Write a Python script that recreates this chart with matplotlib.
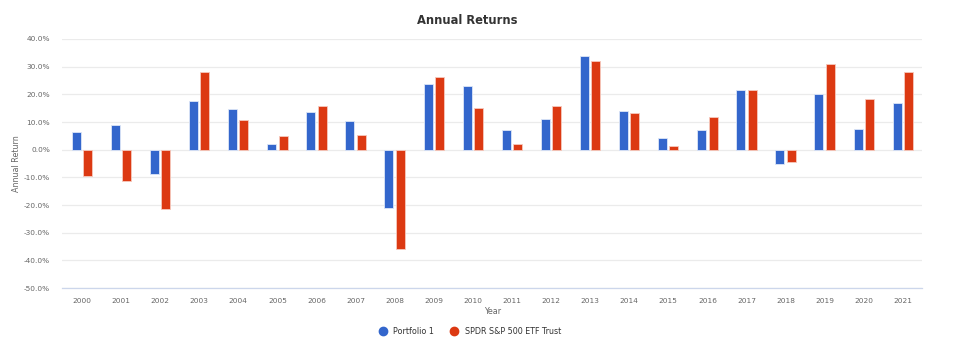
import numpy as np
import matplotlib
matplotlib.use("Agg")
from matplotlib import pyplot as plt
from matplotlib.lines import Line2D
from matplotlib.ticker import FuncFormatter, MultipleLocator

# Data (annual returns, %)
years = [str(y) for y in range(2000, 2022)]
portfolio_1 = [6.4, 8.9, -8.9, 17.5, 14.8, 2.1, 13.8, 10.4, -21.1, 23.9,
               23.0, 7.1, 11.2, 34.0, 13.9, 4.1, 7.3, 21.5, -5.2, 20.1,
               7.5, 16.8]
spdr_sp500 = [-9.6, -11.4, -21.5, 28.1, 10.8, 4.9, 15.8, 5.2, -36.0, 26.1,
              14.9, 2.0, 15.9, 31.9, 13.4, 1.2, 11.9, 21.5, -4.3, 30.8,
              18.2, 28.0]
series_names = ["Portfolio 1", "SPDR S&P 500 ETF Trust"]

blue = "#3366cc"
red = "#dc3912"
grey = "#666666"

fig = plt.figure(figsize=(9.75, 3.51), dpi=100)
ax = fig.add_axes([0.064, 0.179, 0.882, 0.710])

x = np.arange(len(years))
w = 0.23
ax.bar(x - 0.145, portfolio_1, width=w, color=blue, edgecolor="#dde6f7",
       linewidth=0.6, zorder=3)
ax.bar(x + 0.145, spdr_sp500, width=w, color=red, edgecolor="#f6c9bd",
       linewidth=0.6, zorder=3)

ax.set_xlim(-0.5, len(years) - 0.5)
ax.set_ylim(-50, 40)
ax.yaxis.set_major_locator(MultipleLocator(10))
ax.yaxis.set_major_formatter(FuncFormatter(lambda v, p: "%.1f%%" % v))
ax.set_xticks(x)
ax.set_xticklabels(years)
ax.tick_params(axis="both", length=0, labelsize=5.3, colors=grey)
ax.tick_params(axis="x", pad=7)
ax.tick_params(axis="y", pad=9)

ax.grid(axis="y", color="#ebebeb", linewidth=0.9, zorder=0)
for s in ["top", "right", "left"]:
    ax.spines[s].set_visible(False)
ax.spines["bottom"].set_color("#ccd6eb")
ax.spines["bottom"].set_linewidth(0.9)

ax.set_ylabel("Annual Return", fontsize=5.8, color=grey, labelpad=2)
ax.set_xlabel("Year", fontsize=5.8, color=grey, labelpad=2)
fig.text(0.479, 0.943, "Annual Returns", ha="center", va="center",
         fontsize=8.3, fontweight="bold", color="#333333")

handles = [Line2D([], [], marker="o", linestyle="", markersize=6, color=c)
           for c in (blue, red)]
fig.legend(handles, series_names, loc="center", bbox_to_anchor=(0.48, 0.055),
           ncol=2, frameon=False, fontsize=5.8, handletextpad=0.3,
           columnspacing=1.5, labelcolor="#333333")

plt.savefig("out.png", dpi=100)
